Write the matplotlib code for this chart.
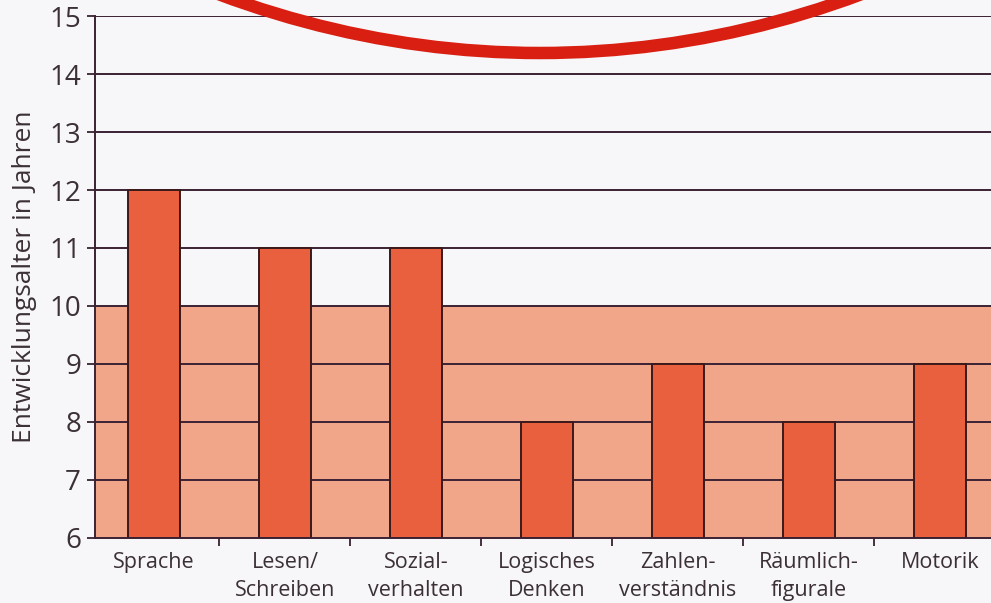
import matplotlib
matplotlib.use("Agg")
import matplotlib.pyplot as plt
from matplotlib.patches import Ellipse

kategorien = ["Sprache", "Lesen/\nSchreiben", "Sozial-\nverhalten", "Logisches\nDenken",
              "Zahlen-\nverständnis", "Räumlich-\nfigurale", "Motorik"]
alter = [12, 11, 11, 8, 9, 8, 9]
band_unten, band_oben = 6, 10
y_ticks = list(range(6, 16))

plt.rcParams['font.family'] = ['Open Sans', 'DejaVu Sans']
textfarbe = "#3a3036"
linie = "#3a2233"

fig = plt.figure(figsize=(9.91, 6.03), dpi=100, facecolor="#f7f6f8")
ax = fig.add_axes([95/991, 65/603, 1 - 95/991, 522/603])
ax.set_facecolor("#f7f6f8")

ax.axhspan(band_unten, band_oben, color="#f2a689", zorder=0.5, lw=0)
for y in y_ticks[1:]:
    ax.axhline(y, color=linie, lw=1.4, zorder=1)

x = list(range(len(kategorien)))
ax.bar(x, [a - 6 for a in alter], bottom=6, width=0.4, color="#e8603e",
       edgecolor="#3a1a1a", linewidth=1.4, zorder=2)

ax.set_yticks(y_ticks)
ax.set_yticklabels([str(v) for v in y_ticks], fontsize=20, color=textfarbe)
ax.set_xticks([i + 0.5 for i in x])
ax.set_xticklabels([])
ax.set_xticks(x, minor=True)
ax.set_xticklabels(kategorien, minor=True, fontsize=15.5, color=textfarbe, linespacing=1.45)
ax.tick_params(axis="x", which="minor", length=0, pad=10)
ax.tick_params(axis="x", which="major", length=6, width=1.3, color=linie, direction="out")
ax.tick_params(axis="y", length=6, width=1.3, color=linie, pad=4)
ax.set_xlim(-0.45, 6.39)
ax.set_ylim(6, 15)

for s in ["top", "right"]:
    ax.spines[s].set_visible(False)
for s in ["left", "bottom"]:
    ax.spines[s].set_color(linie)
    ax.spines[s].set_linewidth(1.4)

ax.set_ylabel("Entwicklungsalter in Jahren", fontsize=19, color=textfarbe, labelpad=9)

# roter Kreis oben (Markierung)
kreis = Ellipse((5.40, 6.03 - 0.53 + 16.1), 24.0, 32.2, fill=False, edgecolor="#d81f12",
                linewidth=9, transform=fig.dpi_scale_trans, zorder=10)
fig.add_artist(kreis)

fig.savefig("out.png", dpi=100, facecolor=fig.get_facecolor())
